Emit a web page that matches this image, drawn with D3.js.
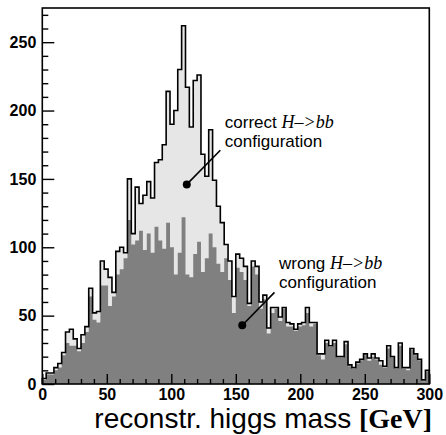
<!DOCTYPE html>
<html>
<head>
<meta charset="utf-8">
<script src="https://cdn.jsdelivr.net/npm/d3@7"></script>
<style>
  body { margin: 0; background: #fff; }
  svg { display: block; }
  .tick text { font-family: "Liberation Sans", Arial, sans-serif; font-weight: bold; font-size: 16px; }
</style>
</head>
<body>
<svg id="chart" width="446" height="435"></svg>
<script>
(function() {

  // Histogram binning (GeV).
  var binStart = 0;
  var binWidth = 3;

  // All candidates (outlined light histogram), 100 bins of 3 GeV.
  var total = [
      4,   8,   8,  12,  15,  23,  38,  40,  33,  26,
     36,  42,  70,  52,  53,  90,  84,  78,  67,  97,
    100,  96, 150, 110, 144, 132, 138, 148, 136, 162,
    164, 175, 214, 190, 200, 230, 262, 217, 188, 222,
    226, 168, 152, 186, 149, 130, 118, 102,  90,  64,
     95,  92,  86,  59,  90,  86,  60,  65,  41,  56,
     56,  49,  56,  45,  44,  40,  44,  45,  56,  45,
     45,  22,  22,  32,  28,  32,  20,  20,  31,  14,
     12,  16,  18,  22,  19,  22,  19,  17,  13,  28,
     20,  12,  30,  12,  12,  26,  22,  18,   3,  10
  ];

  // Wrong H->bb configuration (dark histogram).
  var wrong = [
      3,   7,   7,  10,  12,  21,  30,  28,  28,  24,
     30,  38,  64,  47,  45,  72,  72,  57,  64,  80,
     84,  92, 120, 102, 105, 112,  98, 110,  96, 115,
    105,  99, 118, 100,  80,  96, 122,  80,  78,  95,
    104,  82,  92, 110, 100,  88,  82,  92,  76,  52,
     85,  82,  76,  57,  86,  80,  55,  62,  37,  52,
     55,  46,  55,  42,  42,  39,  42,  43,  52,  42,
     44,  21,  18,  30,  27,  30,  19,  19,  29,  13,
     11,  15,  17,  21,  17,  20,  18,  14,  12,  26,
     19,  11,  28,  11,  10,  25,  21,  17,   2,   9
  ];

  // Axis ticks.
  var xMajor = [0, 50, 100, 150, 200, 250, 300];
  var xMinor = [10, 20, 30, 40, 60, 70, 80, 90, 110, 120, 130, 140, 160, 170, 180, 190, 210, 220, 230, 240, 260, 270, 280, 290];
  var yMajor = [0, 50, 100, 150, 200, 250];
  var yMinor = [10, 20, 30, 40, 60, 70, 80, 90, 110, 120, 130, 140, 160, 170, 180, 190, 210, 220, 230, 240, 260, 270];

  // Annotations: dot (data coords), line end (data coords), text position and lines.
  var notes = [
    { dot: [112, 146], end: [138, 171], text: [141.5, 187], first: "correct ", second: "configuration" },
    { dot: [155, 43],  end: [180, 67],  text: [183.5, 84],  first: "wrong ",   second: "configuration" }
  ];

  var svg = d3.select("#chart");

  var x = d3.scaleLinear().domain([0, 300]).range([42.3, 429.3]);
  var y = d3.scaleLinear().domain([0, 275]).range([384, 8]);

  // Build step points for a histogram.
  function steps(values) {
    var pts = [[binStart, 0]];
    values.forEach(function(v, i) {
      var x0 = binStart + i * binWidth;
      pts.push([x0, v]);
      pts.push([x0 + binWidth, v]);
    });
    pts.push([binStart + values.length * binWidth, 0]);
    return pts;
  }

  var area = d3.area()
    .x(function(d) { return x(d[0]); })
    .y0(y(0))
    .y1(function(d) { return y(d[1]); });

  var line = d3.line()
    .x(function(d) { return x(d[0]); })
    .y(function(d) { return y(d[1]); });

  // Light fill of all candidates.
  svg.append("path")
    .attr("d", area(steps(total)))
    .attr("fill", "#e6e6e6");

  // Dark fill of wrong configuration.
  svg.append("path")
    .attr("d", area(steps(wrong)))
    .attr("fill", "#808080");

  // Black outline of the total histogram.
  svg.append("path")
    .attr("d", line(steps(total)))
    .attr("fill", "none")
    .attr("stroke", "#000")
    .attr("stroke-width", 1.6)
    .attr("stroke-linejoin", "miter");

  // Axes.
  svg.append("g")
    .attr("transform", "translate(0," + y(0) + ")")
    .call(d3.axisBottom(x).tickValues(xMajor).tickSizeInner(-10).tickSizeOuter(0).tickPadding(5).tickFormat(d3.format("d")));
  svg.append("g")
    .attr("transform", "translate(0," + y(0) + ")")
    .call(d3.axisBottom(x).tickValues(xMinor).tickSizeInner(-5).tickSizeOuter(0).tickFormat(""));

  svg.append("g")
    .attr("transform", "translate(" + x(0) + ",0)")
    .call(d3.axisLeft(y).tickValues(yMajor).tickSizeInner(-12).tickSizeOuter(0).tickPadding(6).tickFormat(d3.format("d")));
  svg.append("g")
    .attr("transform", "translate(" + x(0) + ",0)")
    .call(d3.axisLeft(y).tickValues(yMinor).tickSizeInner(-6).tickSizeOuter(0).tickFormat(""));

  svg.selectAll(".domain").remove();
  svg.selectAll(".tick line").attr("stroke", "#000").attr("stroke-width", 1.4);
  svg.selectAll(".tick text").attr("fill", "#000");

  // Frame.
  svg.append("rect")
    .attr("x", x(0))
    .attr("y", y(275))
    .attr("width", x(300) - x(0))
    .attr("height", y(0) - y(275))
    .attr("fill", "none")
    .attr("stroke", "#000")
    .attr("stroke-width", 1.6);

  // Axis title.
  var title = svg.append("text")
    .attr("x", 432)
    .attr("y", 428)
    .attr("text-anchor", "end")
    .attr("font-size", 28)
    .attr("fill", "#000");
  title.append("tspan")
    .attr("font-family", "'Liberation Sans', Arial, sans-serif")
    .text("reconstr. higgs mass ");
  title.append("tspan")
    .attr("font-family", "'Liberation Serif', 'Times New Roman', serif")
    .attr("font-weight", "bold")
    .text("[GeV]");

  // Annotations.
  notes.forEach(function(n) {
    svg.append("line")
      .attr("x1", x(n.dot[0])).attr("y1", y(n.dot[1]))
      .attr("x2", x(n.end[0])).attr("y2", y(n.end[1]))
      .attr("stroke", "#000")
      .attr("stroke-width", 1.6);
    svg.append("circle")
      .attr("cx", x(n.dot[0])).attr("cy", y(n.dot[1]))
      .attr("r", 4)
      .attr("fill", "#000");

    var t = svg.append("text")
      .attr("x", x(n.text[0]))
      .attr("y", y(n.text[1]))
      .attr("font-size", 17)
      .attr("fill", "#000");
    t.append("tspan")
      .attr("font-family", "'Liberation Sans', Arial, sans-serif")
      .text(n.first);
    t.append("tspan")
      .attr("font-family", "'Liberation Serif', 'Times New Roman', serif")
      .attr("font-style", "italic")
      .attr("font-size", 18)
      .text("H\u2013>bb");

    svg.append("text")
      .attr("x", x(n.text[0]))
      .attr("y", y(n.text[1]) + 19)
      .attr("font-size", 17)
      .attr("font-family", "'Liberation Sans', Arial, sans-serif")
      .attr("fill", "#000")
      .text(n.second);
  });

})();
</script>
</body>
</html>
